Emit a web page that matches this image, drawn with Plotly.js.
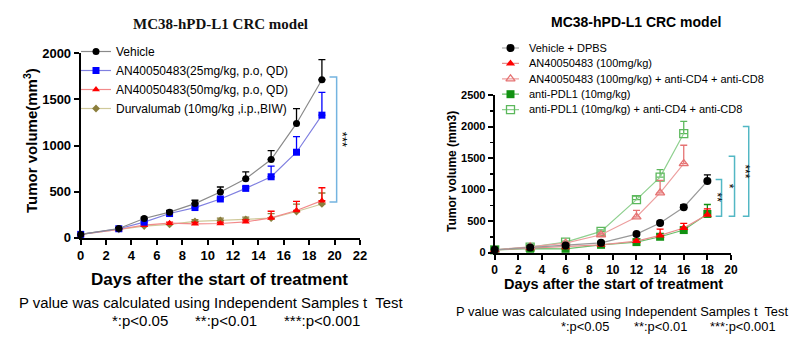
<!DOCTYPE html>
<html><head><meta charset="utf-8">
<script src="https://cdn.plot.ly/plotly-3.0.1.min.js"></script>
<style>html,body{margin:0;padding:0;background:#fff}#chart{width:795px;height:354px}</style>
</head><body><div id="chart"></div>
<script>
// ---------- Left chart data ----------
const daysL = [0, 3, 5, 7, 9, 11, 13, 15, 17, 19];
const vehicleL = [36, 100, 208, 277, 370, 496, 639, 848, 1239, 1713];
const vehicleLErr = [5, 10, 15, 18, 36, 54, 76, 97, 162, 219];
const an25 = [36, 97, 169, 262, 327, 420, 535, 661, 927, 1329];
const an25Err = [5, 8, 15, 15, 18, 15, 20, 115, 169, 248];
const an50 = [36, 90, 136, 158, 151, 154, 172, 215, 295, 402];
const an50Err = [5, 8, 10, 12, 15, 15, 20, 72, 100, 140];
const durva = [36, 90, 126, 144, 176, 187, 198, 212, 284, 366];
const durvaErr = [5, 8, 10, 15, 20, 25, 25, 50, 80, 119];
const namesL = ["Vehicle", "AN40050483(25mg/kg, p.o, QD)", "AN40050483(50mg/kg, p.o, QD)", "Durvalumab (10mg/kg ,i.p.,BIW)"];
const ticksL = [0, 2, 4, 6, 8, 10, 12, 14, 16, 18, 20, 22];

// ---------- Right chart data ----------
const daysR = [0, 3, 6, 9, 12, 14, 16, 18];
const vehDPBS = [43, 80, 112, 154, 292, 468, 718, 1133];
const vehDPBSErr = [5, 8, 10, 15, 20, 30, 40, 100];
const an100 = [43, 69, 85, 122, 181, 271, 388, 601];
const an100Err = [5, 6, 8, 10, 15, 100, 75, 90];
const an100CD = [43, 90, 149, 282, 564, 947, 1410];
const an100CDErr = [5, 10, 15, 25, 106, 197, 292];
const pdl1 = [43, 60, 59, 122, 165, 250, 356, 612];
const pdl1Err = [5, 5, 8, 10, 15, 25, 30, 150];
const pdl1CD = [43, 85, 165, 335, 840, 1197, 1888];
const pdl1CDErr = [5, 10, 15, 25, 54, 117, 192];
const namesR = ["Vehicle + DPBS", "AN40050483 (100mg/kg)", "AN40050483 (100mg/kg) + anti-CD4 + anti-CD8", "anti-PDL1 (10mg/kg)", "anti-PDL1 (10mg/kg) + anti-CD4 + anti-CD8"];
const ticksR = [0, 2, 4, 6, 8, 10, 12, 14, 16, 18, 20];

// ---------- helpers ----------
const W = 795, H = 354;
const px = x => x / W;
const py = y => 1 - y / H;
const zeros = a => a.map(() => 0);
const last = a => a[a.length - 1];
const SANS = "Liberation Sans, Arial, sans-serif";
const X2MAX = last(ticksR);

function tr(x, y, err, name, mcol, lcol, symbol, size, xa, ya, showleg) {
  return {
    type: "scatter", mode: "lines+markers", x: x, y: y, name: name,
    xaxis: xa, yaxis: ya, legend: "legend", showlegend: showleg, cliponaxis: false,
    line: {color: lcol, width: 1.2},
    marker: {color: mcol, symbol: symbol, size: size, line: {color: mcol, width: symbol.indexOf("open") >= 0 ? 1.3 : 0}},
    error_y: {type: "data", symmetric: false, array: err, arrayminus: zeros(err), color: mcol, thickness: 1.3, width: 3.5}
  };
}

const styleR = [
  {m: "#000000", l: "#999999", s: "circle", z: 8},
  {m: "#ff0000", l: "#e89090", s: "triangle-up", z: 8},
  {m: "#e57373", l: "#eda0a0", s: "triangle-up-open", z: 8},
  {m: "#119111", l: "#6abf6a", s: "square", z: 8},
  {m: "#5cb85c", l: "#8fd08f", s: "square-open", z: 8}
];

const data = [
  tr(daysL, durva, durvaErr, namesL[3], "#8b7e3c", "#cfc99a", "diamond", 6, "x", "y", true),
  tr(daysL, an50, an50Err, namesL[2], "#ff0000", "#f28a8a", "triangle-up", 7, "x", "y", true),
  tr(daysL, an25, an25Err, namesL[1], "#0000ff", "#8080e0", "square", 7, "x", "y", true),
  tr(daysL, vehicleL, vehicleLErr, namesL[0], "#000000", "#8a8a8a", "circle", 7, "x", "y", true),
  tr(daysR, pdl1CD, pdl1CDErr, namesR[4], styleR[4].m, styleR[4].l, styleR[4].s, 8, "x2", "y2", false),
  tr(daysR, pdl1, pdl1Err, namesR[3], styleR[3].m, styleR[3].l, styleR[3].s, 8, "x2", "y2", false),
  tr(daysR, an100CD, an100CDErr, namesR[2], styleR[2].m, styleR[2].l, styleR[2].s, 8, "x2", "y2", false),
  tr(daysR, an100, an100Err, namesR[1], styleR[1].m, styleR[1].l, styleR[1].s, 8, "x2", "y2", false),
  tr(daysR, vehDPBS, vehDPBSErr, namesR[0], styleR[0].m, styleR[0].l, styleR[0].s, 8, "x2", "y2", false)
];

// Right legend: keys drawn on a small categorical axis pair (x3/y3), labels are its tick labels
namesR.forEach((nm, i) => {
  const st = styleR[i];
  data.push({
    type: "scatter", mode: "lines+markers", x: [-1, 0, 1], y: [nm, nm, nm],
    xaxis: "x3", yaxis: "y3", showlegend: false, hoverinfo: "skip", cliponaxis: false,
    line: {color: st.l, width: 1.2},
    marker: {color: st.m, symbol: st.s, size: [0, st.z, 0], opacity: [0, 1, 0],
      line: {color: st.m, width: st.s.indexOf("open") >= 0 ? 1.3 : 0}}
  });
});

const axBase = {
  showgrid: false, zeroline: false, showline: true, linecolor: "#000", linewidth: 2,
  ticks: "outside", ticklen: 5, tickwidth: 2, tickcolor: "#000", fixedrange: true
};

// brackets (derived from series end values)
const lb = {x0: 19.6, x1: 20.16, top: last(vehicleL) + 30, bot: last(an50) - 14};
const rBot = Math.min(last(an100), last(pdl1)) - 27;
const rb = [
  {x0: 18.7, x1: 19.2, top: last(vehDPBS) + 27, txt: "**", tx: 19.6},
  {x0: 19.8, x1: 20.3, top: last(an100CD) + 117, txt: "*", tx: 20.55},
  {x0: 21.0, x1: 21.5, top: last(pdl1CD) + 112, txt: "***", tx: 21.95}
];
const shapes = [{
  type: "path", xref: "x", yref: "y",
  path: `M ${lb.x0},${lb.top} L ${lb.x1},${lb.top} L ${lb.x1},${lb.bot} L ${lb.x0},${lb.bot}`,
  line: {color: "#74b4e0", width: 1.5}
}].concat(rb.map(b => {
  const a = b.x0 / X2MAX, c = b.x1 / X2MAX;
  return {
    type: "path", xref: "x2 domain", yref: "y2",
    path: `M ${a},${b.top} L ${c},${b.top} L ${c},${rBot} L ${a},${rBot}`,
    line: {color: "#52b7c4", width: 1.5}
  };
}));

const ann = (x, y, text, size, opts) => Object.assign({
  xref: "paper", yref: "paper", x: px(x), y: py(y), text: text, showarrow: false,
  font: {family: SANS, size: size, color: "#000"}, xanchor: "center", yanchor: "middle"
}, opts || {});
const txt = (x, y, text, size) => ann(x, y, text, size, {xanchor: "left"});

const annotations = [
  ann(220, 24, "<b>MC38-hPD-L1 CRC model</b>", 15, {font: {family: "Liberation Serif, Times New Roman, serif", size: 15, color: "#111"}}),
  ann(636, 22, "<b>MC38-hPD-L1 CRC model</b>", 14),
  ann(30, 141, "<b>Tumor volume(mm<sup>3</sup>)</b>", 15, {textangle: -90}),
  ann(452, 172, "<b>Tumor volume (mm3)</b>", 12, {textangle: -90}),
  ann(219, 279, "<b>Days after the start of treatment</b>", 17),
  ann(613, 284, "<b>Days after the start of treatment</b>", 14.5),
  txt(17, 303, "P value was calculated using Independent Samples t\u00a0 Test", 14.9),
  txt(110, 320, "*:p&lt;0.05", 15),
  txt(193, 320, "**:p&lt;0.01", 15),
  txt(282, 320, "***:p&lt;0.001", 15),
  txt(454, 311, "P value was calculated using Independent Samples t\u00a0 Test", 12.9),
  txt(559, 326, "*:p&lt;0.05", 12.9),
  txt(632, 326, "**:p&lt;0.01", 12.9),
  txt(708, 326, "***:p&lt;0.001", 12.9),
  {xref: "x", yref: "y", x: 20.63, y: (lb.top + lb.bot) / 2, text: "***", textangle: 90, showarrow: false,
   font: {family: SANS, size: 13, color: "#000"}}
].concat(rb.map(b => ({
  xref: "x2 domain", yref: "y2", x: b.tx / X2MAX, y: (b.top + rBot) / 2, text: b.txt, textangle: 90, showarrow: false,
  font: {family: SANS, size: 12, color: "#000"}
})));

const layout = {
  width: W, height: H, margin: {l: 0, r: 0, t: 0, b: 0},
  paper_bgcolor: "#fff", plot_bgcolor: "rgba(0,0,0,0)",
  font: {family: SANS, color: "#000"},
  xaxis: Object.assign({}, axBase, {domain: [px(80.7), px(360)], range: [0, 22], tickvals: ticksL,
    tickfont: {family: SANS, size: 13, color: "#000", weight: "bold"}, anchor: "y"}),
  yaxis: Object.assign({}, axBase, {domain: [py(237.7), py(53.3)], range: [0, 2000], dtick: 500,
    tickfont: {family: SANS, size: 13, color: "#000", weight: "bold"}, anchor: "x"}),
  xaxis2: Object.assign({}, axBase, {domain: [px(494.7), px(731)], range: [0, X2MAX], tickvals: ticksR,
    tickfont: {family: SANS, size: 12, color: "#000", weight: "bold"}, anchor: "y2"}),
  yaxis2: Object.assign({}, axBase, {domain: [py(252.5), py(95)], range: [0, 2500], dtick: 500,
    tickfont: {family: SANS, size: 11, color: "#000", weight: "bold"}, anchor: "x2",
    minor: {dtick: 250, ticks: "outside", ticklen: 3, tickwidth: 1.5, tickcolor: "#000"}}),
  xaxis3: {domain: [px(502), px(519)], range: [-1, 1], visible: false, fixedrange: true, anchor: "y3"},
  yaxis3: {domain: [py(117.3), py(40.3)], type: "category", categoryorder: "array", categoryarray: namesR,
    range: [namesR.length - 0.5, -0.5], anchor: "x3", side: "right", showline: false, showgrid: false,
    zeroline: false, ticks: "", ticklabelstandoff: 9, fixedrange: true,
    tickfont: {family: SANS, size: 11, color: "#000"}},
  legend: {x: px(76), y: py(37), xanchor: "left", yanchor: "top", bgcolor: "rgba(0,0,0,0)",
    font: {family: SANS, size: 12, color: "#000"}, traceorder: "reversed", tracegroupgap: 0},
  showlegend: true,
  shapes: shapes,
  annotations: annotations
};

Plotly.newPlot("chart", data, layout, {displayModeBar: false, staticPlot: true});
</script>
</body></html>
